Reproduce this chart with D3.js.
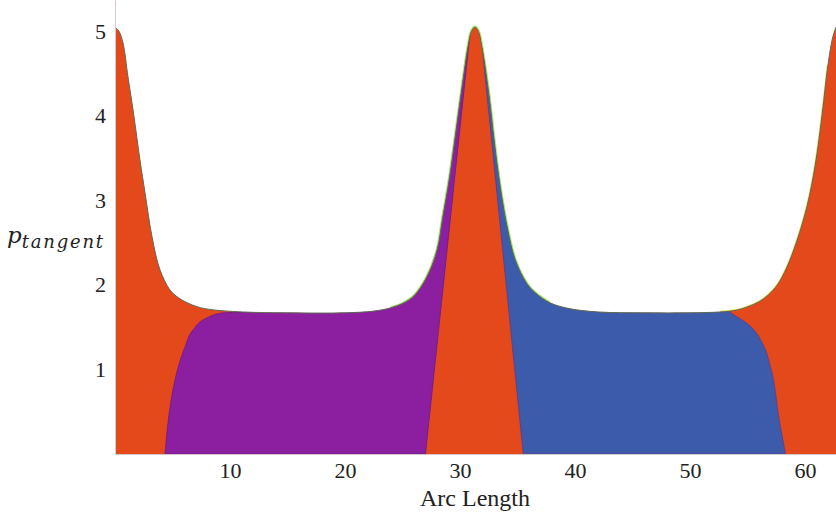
<!DOCTYPE html>
<html>
<head>
<meta charset="utf-8">
<title>p tangent vs arc length</title>
<script src="https://cdn.jsdelivr.net/npm/d3@7"></script>
<style>
  html, body { margin: 0; background: #fff; }
  svg text { font-family: "Liberation Serif", "DejaVu Serif", serif; fill: #222; }
  .axis path { stroke: #d8c8cc; stroke-width: 1; }
  .axis line { display: none; }
  .axis text { font-size: 22px; }
</style>
</head>
<body>
<svg width="836" height="525"></svg>
<script>
// upper envelope of the plot
var envX = [0, 0.35, 0.7, 1.13, 1.57, 2.17, 2.61, 3.22, 3.91, 4.78, 5.5, 6.26, 7.2, 8.26, 11.1, 15, 20, 22.5, 24.0, 25.0, 26.0,
            27.1, 28.0, 28.5, 29.1, 29.7, 30.3, 30.7, 31.0, 31.3, 31.6, 31.9, 32.5, 33.0, 33.5, 34.1, 34.8, 35.8,
            36.6, 37.8, 39.5, 42, 46, 50, 52.6, 54.0, 55.0, 56.0, 56.8, 57.6, 58.4, 59.3, 60.2, 60.9, 61.5, 62.0, 62.4, 62.7];
var envY = [5.05, 5.0, 4.86, 4.46, 4.07, 3.48, 3.09, 2.57, 2.18, 1.94, 1.85, 1.79, 1.74, 1.71, 1.68, 1.67, 1.67, 1.69, 1.73, 1.78, 1.87,
            2.09, 2.41, 2.80, 3.28, 3.87, 4.46, 4.82, 5.0, 5.05, 5.0, 4.82, 4.27, 3.68, 3.16, 2.69, 2.30, 2.02,
            1.90, 1.79, 1.72, 1.68, 1.67, 1.67, 1.68, 1.70, 1.74, 1.80, 1.88, 2.00, 2.20, 2.52, 2.94, 3.42, 4.02, 4.60, 4.92, 5.05];

// left edge of the purple region (bottom to top)
var purpleEdgeX = [4.35, 4.6, 5.04, 5.5, 6.1, 6.8, 8.0, 9.4, 12.3];
var purpleEdgeY = [0, 0.36, 0.76, 1.03, 1.27, 1.47, 1.61, 1.67, 1.68];

// right edge of the blue region (top to bottom)
var blueEdgeX = [53.5, 55.0, 56.3, 57.0, 57.8, 58.2, 58.3];
var blueEdgeY = [1.67, 1.54, 1.31, 1.03, 0.37, 0.08, 0];

// straight sides of the central orange wedge (bottom to top)
var wedgeLeftX = [27.0, 31.2];
var wedgeLeftY = [0, 5.4];
var wedgeRightX = [35.5, 31.5];
var wedgeRightY = [0, 5.4];

var xTicks = [10, 20, 30, 40, 50, 60];
var yTicks = [1, 2, 3, 4, 5];

var colOrange = "#e4491c", colPurple = "#8c1fa0", colBlue = "#3c5bab";

var svg = d3.select("svg");
var x = d3.scaleLinear().domain([0, 62.7]).range([115, 836]);
var y = d3.scaleLinear().domain([0, 5.37]).range([454, 0]);

function pts(xs, ys) { return xs.map(function(v, i) { return [v, ys[i]]; }); }
var env = pts(envX, envY);

var smooth = d3.curveCatmullRom.alpha(0.5);

var area = d3.area()
    .x(function(d) { return x(d[0]); })
    .y0(y(0))
    .y1(function(d) { return y(d[1]); })
    .curve(smooth);

var rim = d3.line()
    .x(function(d) { return x(d[0]); })
    .y(function(d) { return y(d[1]); })
    .curve(smooth);

svg.append("clipPath").attr("id", "under")
  .append("path").attr("d", area(env));

// soft coloured halo outside the envelope (green round the middle peak, yellow on the right)
svg.append("path")
  .attr("d", rim(env.filter(function(d) { return d[0] >= 24 && d[0] <= 38; })))
  .attr("fill", "none").attr("stroke", "#a8e86c").attr("stroke-width", 3);
svg.append("path")
  .attr("d", rim(env.filter(function(d) { return d[0] >= 52.6 && d[0] <= 62; })))
  .attr("fill", "none").attr("stroke", "#f2d85a").attr("stroke-width", 2.4);

svg.append("path").attr("d", area(env)).attr("fill", colOrange);

var edgeLine = d3.line()
    .x(function(d) { return x(d[0]); })
    .y(function(d) { return y(d[1]); })
    .curve(d3.curveMonotoneY);

// purple: curved left edge, open to the top, straight wedge side on the right
var pEdge = pts(purpleEdgeX, purpleEdgeY);
var pPath = edgeLine(pEdge) +
    "L" + x(purpleEdgeX[purpleEdgeX.length - 1]) + "," + y(6) +
    "L" + x(wedgeLeftX[1]) + "," + y(6) +
    "L" + x(wedgeLeftX[1]) + "," + y(wedgeLeftY[1]) +
    "L" + x(wedgeLeftX[0]) + "," + y(wedgeLeftY[0]) + "Z";

// blue: straight wedge side on the left, curved right edge
var bEdge = pts(blueEdgeX.slice().reverse(), blueEdgeY.slice().reverse());
var bPath = edgeLine(bEdge) +
    "L" + x(blueEdgeX[0]) + "," + y(6) +
    "L" + x(wedgeRightX[1]) + "," + y(6) +
    "L" + x(wedgeRightX[1]) + "," + y(wedgeRightY[1]) +
    "L" + x(wedgeRightX[0]) + "," + y(wedgeRightY[0]) + "Z";

var g = svg.append("g").attr("clip-path", "url(#under)");
g.append("path").attr("d", pPath).attr("fill", colPurple)
  .attr("stroke", "#6a1a86").attr("stroke-width", 0.8);
g.append("path").attr("d", bPath).attr("fill", colBlue)
  .attr("stroke", "#5a3a90").attr("stroke-width", 0.8);

// thin dark rim along the envelope
svg.append("path")
  .attr("d", rim(env))
  .attr("fill", "none").attr("stroke", "#5d6a55").attr("stroke-width", 1);

// axes
svg.append("g").attr("class", "axis")
  .attr("transform", "translate(0," + y(0) + ")")
  .call(d3.axisBottom(x).tickValues(xTicks).tickSize(0).tickPadding(8).tickSizeOuter(0));

svg.append("g").attr("class", "axis")
  .attr("transform", "translate(" + x(0) + ",0)")
  .call(d3.axisLeft(y).tickValues(yTicks).tickFormat(d3.format("d"))
        .tickSize(0).tickPadding(9).tickSizeOuter(0));

svg.selectAll(".axis text").attr("font-family", null);

svg.append("text")
  .attr("x", 475).attr("y", 506)
  .attr("text-anchor", "middle")
  .style("font-size", "24px")
  .text("Arc Length");

var yl = svg.append("text").attr("x", 7).attr("y", 243)
  .style("font-style", "italic").style("font-family", "'DejaVu Serif', serif");
yl.append("tspan").style("font-size", "23px").text("p");
yl.append("tspan").attr("dy", 5).style("font-size", "18px")
  .style("letter-spacing", "1.8px").text("tangent");
</script>
</body>
</html>
